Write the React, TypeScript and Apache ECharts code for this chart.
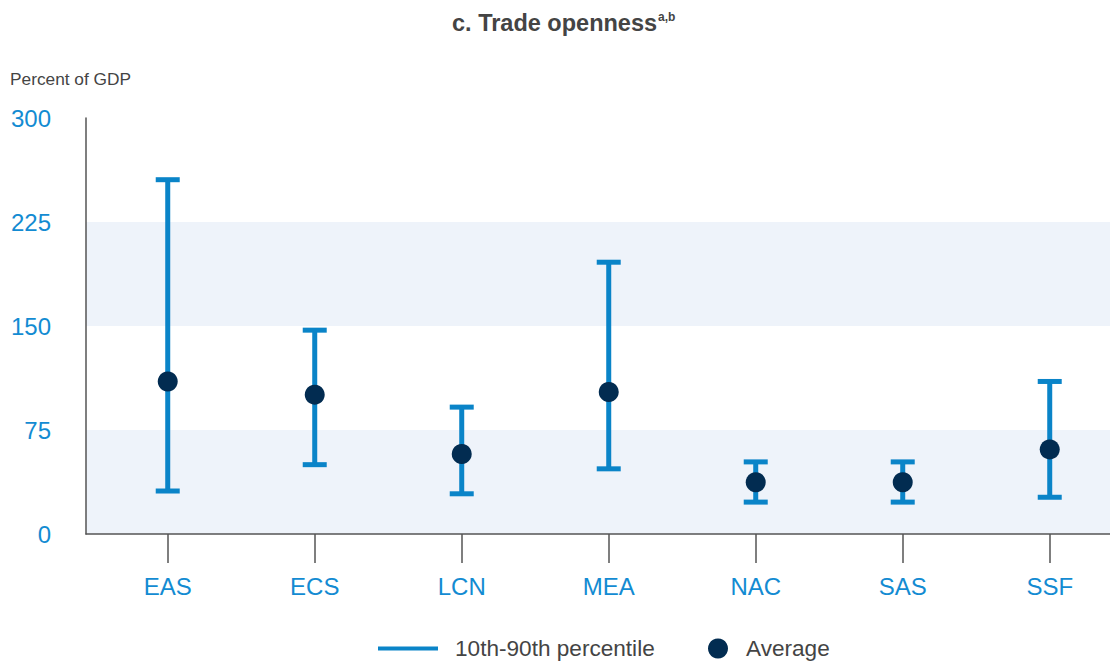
import React, { useEffect, useRef } from "react";
import * as echarts from "echarts";

const categories = ["EAS", "ECS", "LCN", "MEA", "NAC", "SAS", "SSF"];
const p10 = [31, 50, 29, 47, 23, 23, 26.5];
const p90 = [255.5, 147, 91.5, 196, 52, 52, 110];
const average = [110, 100.5, 57.7, 102.4, 37.3, 37.3, 61];
const yTicks = [0, 75, 150, 225, 300];

const FONT = "'Liberation Sans', Arial, Helvetica, sans-serif";
const BAR = "#0a84c8";
const LABEL_BLUE = "#138bd2";
const DOT = "#022c51";
const TEXT = "#444444";
const AXIS = "#555555";

export default function App() {
  const ref = useRef<HTMLDivElement>(null);

  useEffect(() => {
    if (!ref.current) return;
    const chart = echarts.init(ref.current, null, { renderer: "svg" });
    const idx = categories.map((_, i) => i);
    const rangeData = categories.map((_, i) => [i, p10[i], p90[i]]);
    const avgData = categories.map((_, i) => [i, average[i]]);

    const option: any = {
      animation: false,
      backgroundColor: "#ffffff",
      textStyle: { fontFamily: FONT },
      title: {
        text: "{main|c. Trade openness}{sup|a,b}",
        left: 447,
        top: 6,
        textStyle: {
          rich: {
            main: { fontFamily: FONT, fontSize: 23.5, fontWeight: "bold", color: TEXT },
            sup: {
              fontFamily: FONT,
              fontSize: 12,
              fontWeight: "bold",
              color: TEXT,
              padding: [0, 0, 12, 1],
            },
          },
        },
      },
      graphic: [
        {
          type: "text",
          left: 10,
          top: 70,
          style: { text: "Percent of GDP", font: `17.3px ${FONT}`, fill: TEXT },
        },
      ],
      legend: [
        {
          data: [{ name: "10th-90th percentile", icon: "rect" }],
          left: 373,
          top: 632,
          itemWidth: 60,
          itemHeight: 4,
          textStyle: { fontSize: 22.6, color: TEXT, fontFamily: FONT, padding: [0, 0, 0, 12] },
        },
        {
          data: [{ name: "Average", icon: "circle" }],
          left: 703,
          top: 632,
          itemWidth: 20,
          itemHeight: 20,
          textStyle: { fontSize: 22.6, color: TEXT, fontFamily: FONT, padding: [0, 0, 0, 13] },
        },
      ],
      grid: { left: 86, right: 0, top: 118, bottom: 127, containLabel: false },
      xAxis: {
        type: "value",
        min: -0.556,
        max: 6.41,
        splitLine: { show: false },
        axisLine: { show: true, onZero: false, lineStyle: { color: AXIS, width: 1.5 } },
        axisTick: {
          show: true,
          customValues: idx,
          length: 29,
          lineStyle: { color: AXIS, width: 1.5 },
        },
        axisLabel: {
          customValues: idx,
          formatter: (v: number) => categories[Math.round(v)] ?? "",
          fontSize: 24,
          color: LABEL_BLUE,
          fontFamily: FONT,
          margin: 40,
        },
      },
      yAxis: {
        type: "value",
        min: 0,
        max: 300,
        interval: 75,
        axisLine: { show: true, onZero: false, lineStyle: { color: AXIS, width: 1.5 } },
        axisTick: { show: false },
        splitLine: { show: false },
        splitArea: { show: true, areaStyle: { color: ["#eef3fa", "#ffffff"] } },
        axisLabel: {
          fontSize: 24,
          color: LABEL_BLUE,
          fontFamily: FONT,
          margin: 35,
          customValues: yTicks,
        },
      },
      series: [
        {
          name: "10th-90th percentile",
          type: "custom",
          itemStyle: { color: BAR },
          data: rangeData,
          z: 2,
          renderItem: (params: any, api: any) => {
            const x = api.value(0);
            const lo = api.coord([x, api.value(1)]);
            const hi = api.coord([x, api.value(2)]);
            const half = 12;
            const style = { stroke: BAR, lineWidth: 5 };
            return {
              type: "group",
              children: [
                { type: "line", shape: { x1: lo[0], y1: lo[1], x2: hi[0], y2: hi[1] }, style },
                { type: "line", shape: { x1: hi[0] - half, y1: hi[1], x2: hi[0] + half, y2: hi[1] }, style },
                { type: "line", shape: { x1: lo[0] - half, y1: lo[1], x2: lo[0] + half, y2: lo[1] }, style },
              ],
            };
          },
        },
        {
          name: "Average",
          type: "scatter",
          data: avgData,
          symbol: "circle",
          symbolSize: 20,
          itemStyle: { color: DOT, opacity: 1 },
          z: 3,
        },
      ],
    };

    chart.setOption(option);
    return () => chart.dispose();
  }, []);

  return (
    <div
      ref={ref}
      style={{ position: "fixed", left: 0, top: 0, width: 1110, height: 661, background: "#fff" }}
    />
  );
}
